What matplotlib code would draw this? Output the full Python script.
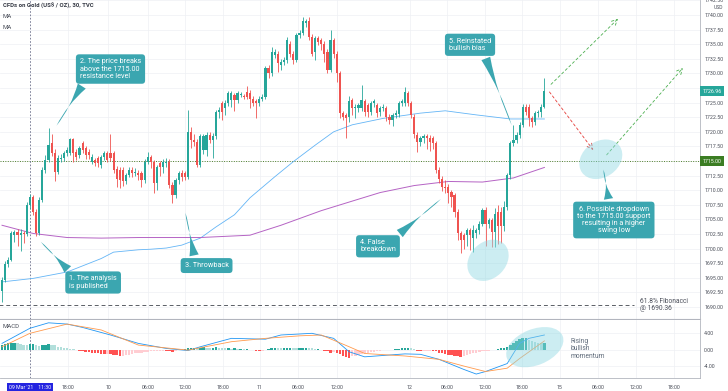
import numpy as np
import matplotlib.pyplot as plt
from matplotlib.patches import Ellipse
from matplotlib import transforms

plt.rcParams['font.family'] = ['Roboto', 'DejaVu Sans']

# 30 minute candles, 09 Mar 2021 07:00 -> 12 Mar 2021 ~21:30
opens = [1692.8, 1694.6, 1697.3, 1698.0, 1702.4, 1702.8, 1702.4, 1702.7, 1702.5, 1707.5,
         1708.9, 1706.3, 1702.6, 1708.3, 1713.5, 1715.2, 1718.0, 1716.3, 1713.2, 1715.3,
         1715.5, 1716.3, 1716.3, 1718.7, 1716.6, 1716.0, 1718.0, 1717.2, 1716.6, 1714.9,
         1715.2, 1715.5, 1714.3, 1715.7, 1716.3, 1716.3, 1716.3, 1713.7, 1713.5, 1713.5,
         1711.5, 1712.6, 1713.5, 1712.9, 1713.0, 1712.9, 1711.7, 1714.9, 1715.7, 1714.9,
         1711.2, 1714.6, 1714.0, 1714.6, 1714.9, 1710.9, 1709.2, 1711.7, 1712.9, 1712.9,
         1712.3, 1720.0, 1718.6, 1718.3, 1714.3, 1716.9, 1716.9, 1719.5, 1718.6, 1719.2,
         1723.4, 1724.9, 1724.0, 1725.0, 1725.4, 1726.3, 1725.4, 1726.3, 1726.1, 1726.9,
         1726.6, 1725.7, 1725.2, 1724.9, 1725.7, 1726.0, 1730.9, 1730.0, 1733.2, 1733.4,
         1731.4, 1732.0, 1732.3, 1735.1, 1733.4, 1732.3, 1736.6, 1736.9, 1738.7, 1738.9,
         1736.3, 1733.7, 1736.0, 1735.7, 1735.1, 1733.7, 1730.6, 1735.7, 1733.4, 1730.0,
         1723.2, 1722.9, 1722.6, 1725.4, 1724.0, 1724.0, 1724.0, 1725.2, 1724.6, 1723.4,
         1724.9, 1724.6, 1723.4, 1724.0, 1724.0, 1722.6, 1722.0, 1722.9, 1723.0, 1724.9,
         1724.9, 1726.6, 1724.9, 1722.6, 1719.5, 1718.3, 1718.9, 1719.2, 1719.0, 1718.9,
         1718.0, 1713.5, 1712.0, 1710.6, 1710.6, 1709.7, 1709.2, 1706.3, 1702.6, 1702.3,
         1702.3, 1703.2, 1701.8, 1702.6, 1703.2, 1704.3, 1706.6, 1704.3, 1704.9, 1702.9,
         1706.3, 1706.3, 1703.8, 1707.2, 1712.6, 1718.0, 1718.6, 1719.5, 1721.2, 1724.3,
         1724.3, 1722.3, 1721.7, 1723.2, 1723.4, 1724.3]
highs = [1695.2, 1697.8, 1698.6, 1703.0, 1703.2, 1703.3, 1703.4, 1703.1, 1707.9, 1709.4,
         1709.2, 1706.8, 1708.8, 1713.9, 1716.0, 1720.6, 1719.7, 1717.0, 1716.0, 1716.2,
         1716.8, 1717.4, 1719.0, 1719.0, 1717.0, 1717.6, 1718.4, 1717.6, 1717.0, 1716.2,
         1715.6, 1715.9, 1716.1, 1716.8, 1716.7, 1719.7, 1716.7, 1714.1, 1713.9, 1713.9,
         1713.0, 1714.0, 1714.0, 1713.8, 1713.4, 1713.3, 1715.3, 1716.6, 1716.0, 1715.2,
         1714.4, 1715.0, 1715.3, 1715.6, 1715.3, 1711.4, 1712.1, 1713.3, 1713.5, 1713.3,
         1723.7, 1720.8, 1719.6, 1718.7, 1719.6, 1719.6, 1719.9, 1720.0, 1719.8, 1723.8,
         1724.2, 1725.3, 1725.5, 1727.0, 1727.0, 1726.7, 1727.0, 1726.8, 1726.4, 1727.8,
         1727.2, 1726.1, 1725.6, 1726.1, 1726.4, 1731.3, 1731.4, 1734.6, 1734.2, 1733.9,
         1732.5, 1732.8, 1736.2, 1735.6, 1733.8, 1737.0, 1737.4, 1739.7, 1739.3, 1739.7,
         1736.7, 1736.4, 1736.4, 1736.1, 1735.5, 1734.1, 1737.4, 1736.1, 1733.8, 1730.4,
         1723.6, 1723.3, 1726.2, 1725.8, 1724.8, 1725.0, 1728.1, 1725.6, 1725.0, 1725.3,
         1725.7, 1725.0, 1724.4, 1724.7, 1724.4, 1723.0, 1723.3, 1723.7, 1725.3, 1725.6,
         1727.6, 1727.0, 1725.3, 1723.0, 1719.9, 1719.3, 1719.6, 1719.6, 1719.4, 1719.3,
         1718.4, 1713.9, 1712.4, 1711.8, 1711.0, 1710.1, 1709.6, 1706.7, 1703.0, 1702.7,
         1703.6, 1703.6, 1704.0, 1703.6, 1704.7, 1707.0, 1707.2, 1705.3, 1705.3, 1707.0,
         1707.5, 1707.2, 1708.2, 1713.0, 1718.4, 1721.2, 1720.0, 1721.6, 1724.8, 1724.8,
         1724.7, 1722.7, 1723.6, 1723.8, 1724.7, 1729.2]
lows = [1690.8, 1694.2, 1696.8, 1697.8, 1701.2, 1700.5, 1699.6, 1701.0, 1702.1, 1706.8,
        1705.8, 1702.2, 1702.3, 1707.9, 1713.0, 1714.8, 1715.8, 1711.5, 1712.8, 1714.8,
        1715.0, 1715.8, 1716.0, 1714.9, 1715.2, 1715.6, 1716.4, 1715.3, 1715.4, 1714.5,
        1714.1, 1713.9, 1713.8, 1715.1, 1714.8, 1715.0, 1712.9, 1710.6, 1710.4, 1710.8,
        1711.0, 1712.2, 1712.3, 1712.5, 1711.8, 1710.5, 1711.3, 1714.5, 1713.8, 1709.5,
        1710.0, 1712.5, 1713.0, 1714.0, 1710.3, 1707.8, 1708.6, 1711.0, 1711.6, 1711.8,
        1712.0, 1717.2, 1717.5, 1713.9, 1713.9, 1716.2, 1715.9, 1718.0, 1715.5, 1718.8,
        1722.4, 1722.0, 1722.8, 1724.5, 1724.3, 1723.5, 1725.0, 1726.0, 1725.7, 1725.6,
        1724.0, 1724.4, 1722.3, 1724.4, 1725.2, 1725.6, 1729.2, 1729.5, 1732.6, 1730.3,
        1730.6, 1731.5, 1731.8, 1732.8, 1731.6, 1731.9, 1736.0, 1736.5, 1738.0, 1735.8,
        1733.0, 1732.3, 1734.8, 1734.0, 1732.0, 1730.0, 1730.2, 1732.6, 1728.5, 1722.3,
        1722.0, 1718.9, 1721.6, 1722.9, 1722.3, 1723.4, 1723.5, 1722.7, 1722.5, 1722.9,
        1724.3, 1722.6, 1722.7, 1723.5, 1721.9, 1721.4, 1721.0, 1722.4, 1722.6, 1724.4,
        1724.4, 1724.4, 1722.4, 1719.0, 1716.5, 1717.5, 1718.0, 1717.0, 1716.8, 1717.0,
        1713.0, 1711.3, 1709.8, 1709.5, 1707.8, 1707.2, 1705.5, 1701.5, 1699.2, 1700.0,
        1700.5, 1699.8, 1699.5, 1701.8, 1702.5, 1703.8, 1700.5, 1703.5, 1700.3, 1700.3,
        1700.8, 1701.0, 1703.0, 1706.6, 1712.0, 1717.5, 1718.0, 1719.0, 1720.8, 1722.8,
        1721.0, 1720.9, 1721.2, 1722.5, 1722.5, 1724.0]
closes = [1694.6, 1697.3, 1698.0, 1702.6, 1702.8, 1702.4, 1702.7, 1702.5, 1707.5, 1708.9,
          1706.3, 1702.6, 1708.3, 1713.5, 1715.2, 1717.7, 1716.3, 1713.2, 1715.5, 1715.6,
          1716.3, 1716.9, 1718.7, 1716.3, 1715.7, 1717.2, 1716.9, 1716.0, 1716.0, 1715.7,
          1714.6, 1714.6, 1715.7, 1716.3, 1715.2, 1715.5, 1713.5, 1712.0, 1711.7, 1711.5,
          1712.6, 1713.5, 1712.9, 1713.2, 1712.6, 1711.7, 1714.9, 1715.7, 1714.9, 1711.2,
          1714.0, 1714.0, 1714.9, 1714.9, 1710.9, 1709.2, 1711.7, 1712.9, 1712.3, 1712.3,
          1720.0, 1718.6, 1718.3, 1714.3, 1719.2, 1719.2, 1719.5, 1718.6, 1719.2, 1723.4,
          1723.7, 1723.4, 1725.0, 1726.6, 1726.6, 1725.4, 1726.6, 1726.4, 1726.0, 1726.0,
          1725.7, 1725.0, 1724.9, 1725.7, 1726.0, 1730.9, 1730.0, 1733.7, 1733.7, 1731.7,
          1732.0, 1732.3, 1735.7, 1733.4, 1732.3, 1736.6, 1736.9, 1738.9, 1738.9, 1736.3,
          1733.4, 1736.0, 1735.4, 1735.1, 1733.4, 1730.6, 1735.7, 1733.4, 1730.0, 1723.2,
          1722.6, 1722.4, 1725.2, 1724.0, 1724.3, 1724.6, 1725.4, 1723.4, 1723.4, 1724.9,
          1725.2, 1723.2, 1724.0, 1724.3, 1722.6, 1722.0, 1722.9, 1723.3, 1724.9, 1725.2,
          1726.9, 1724.9, 1722.9, 1719.7, 1718.3, 1718.9, 1719.2, 1718.9, 1718.3, 1718.0,
          1713.5, 1712.0, 1710.6, 1710.3, 1709.5, 1708.9, 1706.3, 1702.6, 1701.5, 1701.5,
          1703.2, 1702.3, 1703.2, 1703.2, 1704.3, 1706.6, 1704.3, 1704.9, 1702.9, 1706.0,
          1703.8, 1703.8, 1707.2, 1712.6, 1718.0, 1718.6, 1719.5, 1721.2, 1724.3, 1723.4,
          1722.3, 1721.7, 1723.2, 1723.4, 1724.3, 1726.96]

# moving averages (candle index, price)
ma_fast_idx = [0, 10, 21, 32, 36, 44, 48, 53, 58, 64, 69, 75, 80, 88, 94, 101, 107, 113, 123,
               135, 143, 153, 164, 175]
ma_fast = [1694.3, 1694.9, 1696.0, 1698.3, 1699.4, 1699.8, 1699.9, 1700.1, 1700.6, 1701.8,
           1703.7, 1705.8, 1708.7, 1712.3, 1714.9, 1717.7, 1720.0, 1721.2, 1722.3, 1723.2,
           1723.6, 1722.9, 1722.2, 1722.2]
ma_slow_idx = [0, 10, 21, 32, 44, 64, 80, 90, 103, 114, 122, 133, 144, 155, 165, 175]
ma_slow = [1704.0, 1702.6, 1701.9, 1701.8, 1701.9, 1701.9, 1702.3, 1704.0, 1706.5, 1708.3,
           1709.6, 1710.8, 1711.5, 1711.4, 1712.1, 1713.9]

# MACD
macd_idx = [0, 9, 15, 21, 26, 35, 44, 53, 60, 64, 74, 85, 90, 100, 107, 112, 117, 130, 135,
            141, 149, 153, 156, 163, 167, 170, 175]
macd_line = [1.5, 5.1, 6.4, 6.1, 5.3, 3.5, 1.5, 0.3, -0.2, 0.7, 2.7, 2.5, 3.5, 3.9, 2.7, -0.5,
             -1.7, -1.0, -1.1, -2.3, -4.7, -5.8, -5.2, -3.3, 1.5, 2.7, 3.5]
signal_idx = [0, 9, 21, 32, 44, 60, 74, 85, 96, 103, 112, 117, 130, 141, 149, 156, 163, 167, 175]
signal_line = [0.7, 3.9, 6.1, 4.7, 1.1, -0.1, 1.9, 2.7, 3.3, 3.5, 0.7, -0.9, -1.5, -2.3, -3.9,
               -5.2, -4.4, -2.1, 2.1]
hist = [1.2, 1.4, 1.5, 1.7, 1.7, 1.5, 1.3, 1.1, 1.0, 1.3, 1.4, 1.1, 0.8, 1.0, 1.2, 1.3, 1.2, 1.0,
        0.7, 0.6, 0.4, 0.3, 0.2, 0.1, -0.1, -0.3, -0.4, -0.5, -0.6, -0.7, -0.8, -0.9, -1.0, -1.1,
        -1.0, -1.1, -1.2, -1.3, -1.4, -1.4, -1.3, -1.2, -1.0, -0.9, -0.8, -0.7, -0.6, -0.5, -0.4,
        -0.3, -0.3, -0.2, -0.2, -0.3, -0.4, -0.5, -0.3, -0.1, 0.0, 0.1, 0.3, 0.5, 0.5, 0.4, 0.5,
        0.6, 0.5, 0.4, 0.5, 0.6, 0.5, 0.4, 0.3, 0.3, 0.2, 0.3, 0.2, 0.2, 0.1, 0.1, 0.0, -0.1,
        -0.2, -0.3, -0.2, -0.1, 0.2, 0.3, 0.5, 0.4, 0.3, 0.3, 0.4, 0.5, 0.4, 0.3, 0.4, 0.5, 0.5,
        0.4, 0.3, 0.1, 0.1, -0.1, -0.2, -0.4, -0.7, -0.6, -0.8, -1.0, -1.5, -1.7, -1.9, -1.6,
        -1.5, -1.3, -1.1, -0.9, -0.8, -0.6, -0.5, -0.3, -0.2, -0.1, -0.1, -0.1, 0.0, 0.1, 0.2,
        0.3, 0.4, 0.5, 0.3, 0.1, -0.2, -0.3, -0.3, -0.2, -0.2, -0.3, -0.4, -0.7, -0.9, -1.1,
        -1.2, -1.3, -1.4, -1.5, -1.7, -1.5, -1.3, -1.1, -0.9, -0.7, -0.6, -0.4, -0.3, -0.2, -0.1,
        0.0, 0.2, 0.3, 0.4, 0.7, 1.2, 1.7, 2.1, 2.5, 2.7, 2.9, 2.3, 2.0, 1.8, 1.7, 1.6, 1.6]

time_ticks = [21.3, 34.2, 47.1, 59.0, 71.3, 83.2, 95.5, 108.1, 131.6, 143.5, 155.8,
              167.7, 180.0, 192.3, 204.5, 216.8]
time_labels = ['18:00', '10', '06:00', '12:00', '18:00', '11', '06:00', '12:00', '12',
               '06:00', '12:00', '18:00', '15', '06:00', '12:00', '18:00']
publish_idx = 9
support = 1715.00
fib = 1690.36

up_c, dn_c = '#26a69a', '#ef5350'
teal = '#3ba6b0'
grid_c = '#eef0f4'
axis_c = '#b2b5be'
txt_c = '#4a4e59'

fig = plt.figure(figsize=(7.28, 3.91), dpi=100)
ax = fig.add_axes([0, 1 - 319 / 391, 700 / 728, 319 / 391])
axm = fig.add_axes([0, 1 - 378 / 391, 700 / 728, 58 / 391], sharex=ax)

x = np.arange(len(closes))
o = np.array(opens); c = np.array(closes)
colors = [up_c if cc >= oo else dn_c for oo, cc in zip(o, c)]
ax.vlines(x, lows, highs, colors=colors, lw=0.6, zorder=3)
ax.bar(x, np.maximum(np.abs(c - o), 0.12), bottom=np.minimum(o, c), width=0.7,
       color=colors, zorder=4)

ax.plot(ma_fast_idx, ma_fast, color='#64b5f6', lw=0.6, zorder=2)
ax.plot(ma_slow_idx, ma_slow, color='#b563c4', lw=0.7, zorder=2)

ax.axhline(support, color='#4f7f2a', lw=0.7, ls=(0, (1, 1.5)), zorder=1)
ax.plot([-1, 204], [fib, fib], color='#5a5e66', lw=0.7, ls=(0, (4, 3)), zorder=1)
ax.text(206, fib, '61.8% Fibonacci\n@ 1690.36', fontsize=4.8, color=txt_c, va='center',
        linespacing=1.1)

ax.set_xlim(-0.65, 225.2)
ax.set_ylim(1687.95, 1742.57)
ax.yaxis.tick_right()
price_ticks = np.arange(1690, 1742.6, 2.5)
ax.set_yticks(price_ticks)
ax.set_yticklabels([f'{v:.2f}' for v in price_ticks])
ax.tick_params(axis='y', length=0, labelsize=3.8, labelcolor=txt_c, pad=3)
ax.set_xticks(time_ticks)
ax.tick_params(axis='x', length=0, labelbottom=False)
ax.grid(True, color=grid_c, lw=0.5)
ax.set_axisbelow(True)
for s in ['top', 'left']:
    ax.spines[s].set_visible(False)
ax.spines['right'].set_color(axis_c)
ax.spines['bottom'].set_color(axis_c)
ax.spines['right'].set_linewidth(0.6)
ax.spines['bottom'].set_linewidth(0.8)

ax.axvline(publish_idx, color='#6a6e8a', lw=0.6, ls=(0, (2, 2)), zorder=1)
axm.axvline(publish_idx, color='#6a6e8a', lw=0.6, ls=(0, (2, 2)), zorder=1)

# price labels on the scale
ax.text(1.004, closes[-1], f'{closes[-1]:.2f}', transform=ax.get_yaxis_transform(),
        fontsize=3.8, color='white', va='center', ha='left', zorder=10,
        bbox=dict(boxstyle='square,pad=0.45', fc=up_c, ec='none'))
ax.text(1.004, support, f'{support:.2f}', transform=ax.get_yaxis_transform(),
        fontsize=3.8, color='white', va='center', ha='left', zorder=10,
        bbox=dict(boxstyle='square,pad=0.45', fc='#3b7d23', ec='none'))
ax.text(1.02, 0.985, 'USD', transform=ax.transAxes, fontsize=3.6, color=txt_c, va='top')

ax.text(0.004, 0.99, 'CFDs on Gold (US$ / OZ), 30, TVC', transform=ax.transAxes,
        fontsize=4.3, color='#363a45', va='top', fontweight='bold')
ax.text(0.004, 0.955, 'MA', transform=ax.transAxes, fontsize=4.3, color=txt_c, va='top')
ax.text(0.004, 0.923, 'MA', transform=ax.transAxes, fontsize=4.3, color=txt_c, va='top')

# projections
ax.annotate('', xy=(199.4, 1739.7), xytext=(176.5, 1727.8),
            arrowprops=dict(arrowstyle='->', color='#4caf50', lw=0.6, ls=(0, (3, 3))))
ax.annotate('', xy=(220.3, 1731.3), xytext=(194.5, 1715.7),
            arrowprops=dict(arrowstyle='->', color='#4caf50', lw=0.6, ls=(0, (3, 3))))
ax.annotate('', xy=(191.3, 1716.5), xytext=(176.1, 1727.2),
            arrowprops=dict(arrowstyle='->', color='#e53935', lw=0.6, ls=(0, (3, 3))))


def ellipse(axis, cx, cy, w, h, ang):
    tr = fig.dpi_scale_trans + transforms.ScaledTranslation(cx, cy, axis.transData)
    axis.add_patch(Ellipse((0, 0), w, h, angle=ang, transform=tr, fc='#8fd8e3',
                           alpha=0.45, ec='none', zorder=5))


ellipse(ax, 156.8, 1698.0, 0.46, 0.36, 45)
ellipse(ax, 193.2, 1715.3, 0.46, 0.36, 35)
ellipse(axm, 171.9, 0.6, 0.6, 0.36, 22)


def callout(text, tip, center, relpos, ha='left'):
    ax.annotate(text, xy=tip, xytext=center, fontsize=5.2, color='white', ha='center',
                va='center', multialignment=ha, linespacing=1.05, zorder=8,
                bbox=dict(boxstyle='round,pad=0.55,rounding_size=0.45', fc=teal, ec='none'),
                arrowprops=dict(arrowstyle='wedge,tail_width=1.3,shrink_factor=0.0',
                                fc=teal, ec='none', relpos=relpos))


callout('1. The analysis\nis published', (11.9, 1701.5), (29.4, 1694.2), (0.12, 0.9))
callout('2. The price breaks\nabove the 1715.00\nresistance level', (17.1, 1720.65),
        (35.0, 1730.75), (0.12, 0.1))
callout('3. Throwback', (59.0, 1706.6), (66.0, 1697.1), (0.25, 0.9))
callout('4. False\nbreakdown', (142.3, 1708.8), (121.3, 1700.4), (0.85, 0.85))
callout('5. Reinstated\nbullish bias', (164.8, 1720.65), (151.0, 1734.9), (0.8, 0.1))
callout('6. Possible dropdown\nto the 1715.00 support\nresulting in a higher\nswing low',
        (193.9, 1714.0), (197.4, 1704.9), (0.45, 0.9), ha='center')

# MACD panel
hcol = []
for i, h in enumerate(hist):
    prev = hist[i - 1] if i > 0 else h
    if h >= 0:
        hcol.append('#26a69a' if h >= prev else '#b2dfdb')
    else:
        hcol.append('#ffcdd2' if h >= prev else '#ff5252')
axm.bar(x, hist, width=0.8, color=hcol, zorder=2)
axm.plot(macd_idx, macd_line, color='#2196f3', lw=0.6, zorder=3)
axm.plot(signal_idx, signal_line, color='#ff9a4d', lw=0.6, zorder=3)
axm.set_ylim(-6.74, 7.07)
axm.yaxis.tick_right()
axm.set_yticks([-4, 0, 4])
axm.set_yticklabels(['-4.00', '0.00', '4.00'])
axm.tick_params(axis='y', length=0, labelsize=3.8, labelcolor=txt_c, pad=3)
axm.set_xticks(time_ticks)
axm.set_xticklabels(time_labels)
axm.tick_params(axis='x', length=0, labelsize=3.8, labelcolor=txt_c, pad=5)
axm.grid(True, color=grid_c, lw=0.5)
axm.set_axisbelow(True)
for s in ['top', 'left']:
    axm.spines[s].set_visible(False)
axm.spines['right'].set_color(axis_c)
axm.spines['bottom'].set_color(axis_c)
axm.spines['right'].set_linewidth(0.6)
axm.spines['bottom'].set_linewidth(0.6)
axm.text(0.004, 0.93, 'MACD', transform=axm.transAxes, fontsize=4.3, color=txt_c, va='top')
axm.text(183.5, 0.2, 'Rising\nbullish\nmomentum', fontsize=4.8, color='#5f6b7a', va='center',
         linespacing=1.1)
axm.text(publish_idx, -0.17, "09 Mar '21    11:30", transform=axm.get_xaxis_transform(),
         fontsize=3.8, color='white', ha='center', va='center',
         bbox=dict(boxstyle='square,pad=0.4', fc='#2424e0', ec='none'))

fig.savefig('out.png', dpi=100)
